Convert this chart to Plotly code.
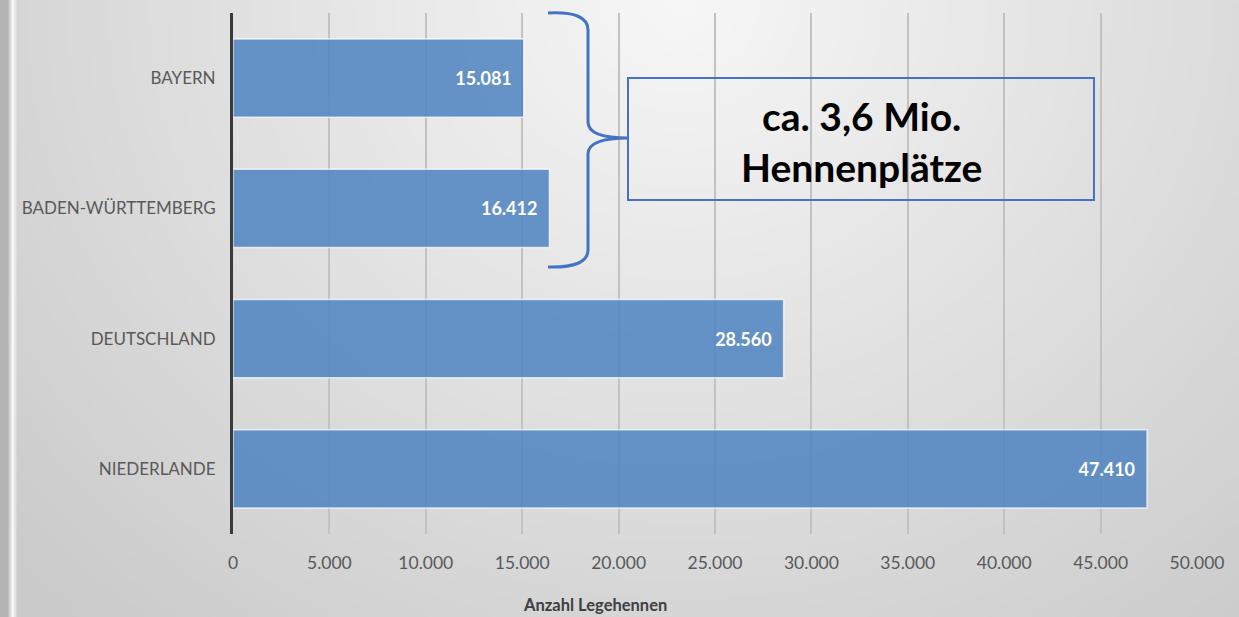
import base64, struct, zlib, math
import plotly.graph_objects as go

# ---- data ----
regions = ["BAYERN", "BADEN-WÜRTTEMBERG", "DEUTSCHLAND", "NIEDERLANDE"]
hens = [15081, 16412, 28560, 47410]
x_ticks = [0, 5000, 10000, 15000, 20000, 25000, 30000, 35000, 40000, 45000, 50000]
axis_title = "Anzahl Legehennen"
callout = "ca. 3,6 Mio.<br>Hennenplätze"

W, H = 1239, 617
L, R, T, B = 233, 42, 13, 83
PW, PH = W - L - R, H - T - B

def px(x):
    return (x - L) / PW

def py(y):
    return (H - B - y) / PH

# ---- background gradient image (generated locally) ----
iw, ih = 248, 124
rows = []
for j in range(ih):
    row = bytearray([0])
    for i in range(iw):
        fx, fy = i / (iw - 1), j / (ih - 1)
        d = math.sqrt(((fx - 0.55) / 0.6) ** 2 + (fy / 1.1) ** 2)
        g = int(max(202, min(247, 247 - 36 * d)))
        if fx * W < 8:
            g = 180
        elif fx * W < 13:
            g = 250
        row += bytes([g, g, g])
    rows.append(bytes(row))
raw = b"".join(rows)

def chunk(tag, data):
    c = struct.pack(">I", len(data)) + tag + data
    return c + struct.pack(">I", zlib.crc32(tag + data) & 0xffffffff)

png = b"\x89PNG\r\n\x1a\n" + chunk(b"IHDR", struct.pack(">IIBBBBB", iw, ih, 8, 2, 0, 0, 0)) \
    + chunk(b"IDAT", zlib.compress(raw, 9)) + chunk(b"IEND", b"")
bg_uri = "data:image/png;base64," + base64.b64encode(png).decode()

fig = go.Figure()
fig.add_trace(go.Bar(
    y=regions, x=hens, orientation="h",
    marker=dict(color="rgba(79,132,192,0.86)", line=dict(color="rgba(255,255,255,0.7)", width=1.5)),
    texttemplate="%{x:,.0f}\u2002", textposition="inside", insidetextanchor="end",
    textfont=dict(family="Lato", size=18, color="white", weight="bold"),
    hoverinfo="skip",
))

# bracket path (decoration)
def P(x, y):
    return f"{px(x):.5f},{py(y):.5f}"

bracket = (f"M {P(548,13)} Q {P(588,11)} {P(588,30)} L {P(588,122)} "
           f"Q {P(588,138)} {P(628,138)} Q {P(588,138)} {P(588,154)} "
           f"L {P(588,250)} Q {P(588,268)} {P(548,267)}")

fig.update_layout(
    width=W, height=H,
    margin=dict(l=L, r=R, t=T, b=B),
    paper_bgcolor="#e4e4e4", plot_bgcolor="rgba(0,0,0,0)",
    separators=",.",
    bargap=0.4,
    showlegend=False,
    font=dict(family="Lato", color="#595959"),
    images=[dict(source=bg_uri, xref="paper", yref="paper",
                 x=px(0), y=py(0), sizex=W / PW, sizey=H / PH,
                 sizing="stretch", layer="below", xanchor="left", yanchor="top")],
    xaxis=dict(range=[0, 50000], tickvals=x_ticks, tickformat=",.0f",
               showgrid=True, gridcolor="#c2c2c2", gridwidth=1.5, zeroline=False,
               ticks="outside", ticklen=13, tickcolor="rgba(0,0,0,0)",
               tickfont=dict(size=17.5, color="#595959"), fixedrange=True),
    yaxis=dict(autorange="reversed", showline=True, linecolor="#3a3a3a", linewidth=3,
               ticks="outside", ticklen=11, tickcolor="rgba(0,0,0,0)",
               tickfont=dict(size=17, color="#595959"), showgrid=False),
    shapes=[
        dict(type="path", path=bracket, xref="paper", yref="paper",
             line=dict(color="#4472c4", width=3)),
        dict(type="rect", xref="paper", yref="paper",
             x0=px(628), x1=px(1094), y0=py(200), y1=py(78),
             line=dict(color="#4472c4", width=2), fillcolor="rgba(0,0,0,0)"),
    ],
    annotations=[
        dict(text=callout, xref="paper", yref="paper", x=px(861), y=py(141),
             xanchor="center", yanchor="middle",
             showarrow=False, align="center",
             font=dict(family="Lato", size=39, color="black", weight="bold")),
        dict(text=axis_title, xref="paper", yref="paper", x=px(595), y=py(605),
             xanchor="center", yanchor="middle",
             showarrow=False, font=dict(family="Lato", size=16.5, color="#404040", weight="bold")),
    ],
)

fig.write_html("out.html", config={"displayModeBar": False},
               post_script="document.body.style.margin='0';")
